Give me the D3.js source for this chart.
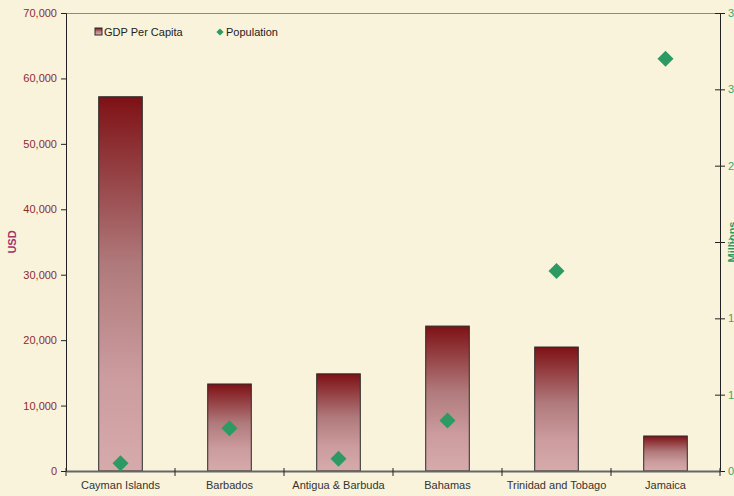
<!DOCTYPE html>
<html>
<head>
<meta charset="utf-8">
<script src="https://cdn.jsdelivr.net/npm/d3@7"></script>
<style>
html,body{margin:0;padding:0;background:#F9F3DC;overflow:hidden;}
svg{display:block;}
text{font-family:"Liberation Sans",Arial,sans-serif;}
</style>
</head>
<body>
<svg id="chart" width="734" height="496"></svg>
<script>
const categories = ["Cayman Islands","Barbados","Antigua & Barbuda","Bahamas","Trinidad and Tobago","Jamaica"];
const gdpPerCapita = [57200, 13300, 14850, 22150, 18950, 5350];
const populationMillions = [0.05, 0.28, 0.08, 0.33, 1.31, 2.70];
const leftTicks = [0,10000,20000,30000,40000,50000,60000,70000];
const rightTicks = [0,0.5,1,1.5,2,2.5,3];

const W = 734, H = 496;
const m = {left:66, right:14, top:13, bottom:25};
const svg = d3.select("#chart");
svg.append("rect").attr("width",W).attr("height",H).attr("fill","#F9F3DC");

const defs = svg.append("defs");
const grad = defs.append("linearGradient").attr("id","barGrad")
  .attr("x1","0").attr("y1","0").attr("x2","0").attr("y2","1");
grad.append("stop").attr("offset","0%").attr("stop-color","#7E1115");
grad.append("stop").attr("offset","45%").attr("stop-color","#B07A7C");
grad.append("stop").attr("offset","75%").attr("stop-color","#CC9C9E");
grad.append("stop").attr("offset","100%").attr("stop-color","#D6AAAB");

const x = d3.scaleBand().domain(categories).range([m.left, W-m.right]).paddingInner(0).paddingOuter(0);
const yL = d3.scaleLinear().domain([0,70000]).range([H-m.bottom, m.top]);
const yR = d3.scaleLinear().domain([0,3]).range([H-m.bottom, m.top]);

// top border of plot area
svg.append("line").attr("x1",m.left).attr("x2",W-m.right).attr("y1",m.top+0.5).attr("y2",m.top+0.5)
  .attr("stroke","#8a8a8a").attr("stroke-width",1);

// bars
const bw = x.bandwidth()*0.4;
svg.selectAll("rect.bar").data(categories).enter().append("rect")
  .attr("class","bar")
  .attr("x",(d)=>x(d)+x.bandwidth()/2-bw/2)
  .attr("width",bw)
  .attr("y",(d,i)=>yL(gdpPerCapita[i]))
  .attr("height",(d,i)=>yL(0)-yL(gdpPerCapita[i]))
  .attr("fill","url(#barGrad)")
  .attr("stroke","#2b2b2b").attr("stroke-width",1);

// left axis
const gL = svg.append("g").attr("transform",`translate(${m.left},0)`)
  .call(d3.axisLeft(yL).tickValues(leftTicks).tickFormat(d3.format(",")).tickSizeOuter(0).tickSize(5));
gL.select(".domain").attr("stroke","#222");
gL.selectAll(".tick line").attr("stroke","#222");
gL.selectAll("text").attr("fill","#8C2B2E").attr("font-size","11px").attr("dx","-1");

// right axis
const gR = svg.append("g").attr("transform",`translate(${W-m.right},0)`)
  .call(d3.axisRight(yR).tickValues(rightTicks).tickFormat(d=>String(Math.round(d))).tickSizeOuter(0).tickSize(5));
gR.select(".domain").attr("stroke","#222");
gR.selectAll(".tick line").attr("stroke","#222").attr("x1",-5);
gR.selectAll("text").attr("fill","#3BA56B").attr("font-size","11px").attr("x",8);

// bottom axis
const gB = svg.append("g").attr("transform",`translate(0,${H-m.bottom})`)
  .call(d3.axisBottom(x).tickSize(0).tickSizeOuter(0));
gB.select(".domain").attr("stroke","#666").attr("stroke-width",2);
gB.selectAll("text").attr("fill","#333").attr("font-size","11px").attr("dy","1.4em");
// category boundary ticks
const bounds = categories.map(c=>x(c)).concat([W-m.right]);
gB.selectAll("line.bt").data(bounds).enter().append("line").attr("class","bt")
  .attr("x1",d=>d).attr("x2",d=>d).attr("y1",-3).attr("y2",5).attr("stroke","#222");

// diamonds
const diamond = d3.symbol().type(d3.symbolSquare).size(128);
svg.selectAll("path.pop").data(categories).enter().append("path")
  .attr("class","pop")
  .attr("d",diamond)
  .attr("transform",(d,i)=>`translate(${x(d)+x.bandwidth()/2},${yR(populationMillions[i])}) rotate(45)`)
  .attr("fill","#2E9A63");

// axis titles
svg.append("text").attr("transform",`translate(16,${(m.top+H-m.bottom)/2}) rotate(-90)`)
  .attr("text-anchor","middle").attr("fill","#A33468").attr("font-size","11px").attr("font-weight","bold").text("USD");
svg.append("text").attr("transform",`translate(736,${(m.top+H-m.bottom)/2}) rotate(-90)`)
  .attr("text-anchor","middle").attr("fill","#2E9A63").attr("font-size","11px").attr("font-weight","bold").text("Millions");

// legend
const lg = svg.append("g");
lg.append("rect").attr("x",95).attr("y",28).attr("width",7).attr("height",7)
  .attr("fill","url(#barGrad)").attr("stroke","#2b2b2b").attr("stroke-width",1);
lg.append("text").attr("x",104).attr("y",36).attr("font-size","11px").attr("fill","#222").text("GDP Per Capita");
lg.append("path").attr("d",d3.symbol().type(d3.symbolSquare).size(26)).attr("transform","translate(220,32) rotate(45)").attr("fill","#2E9A63");
lg.append("text").attr("x",226).attr("y",36).attr("font-size","11px").attr("fill","#222").text("Population");
</script>
</body>
</html>
